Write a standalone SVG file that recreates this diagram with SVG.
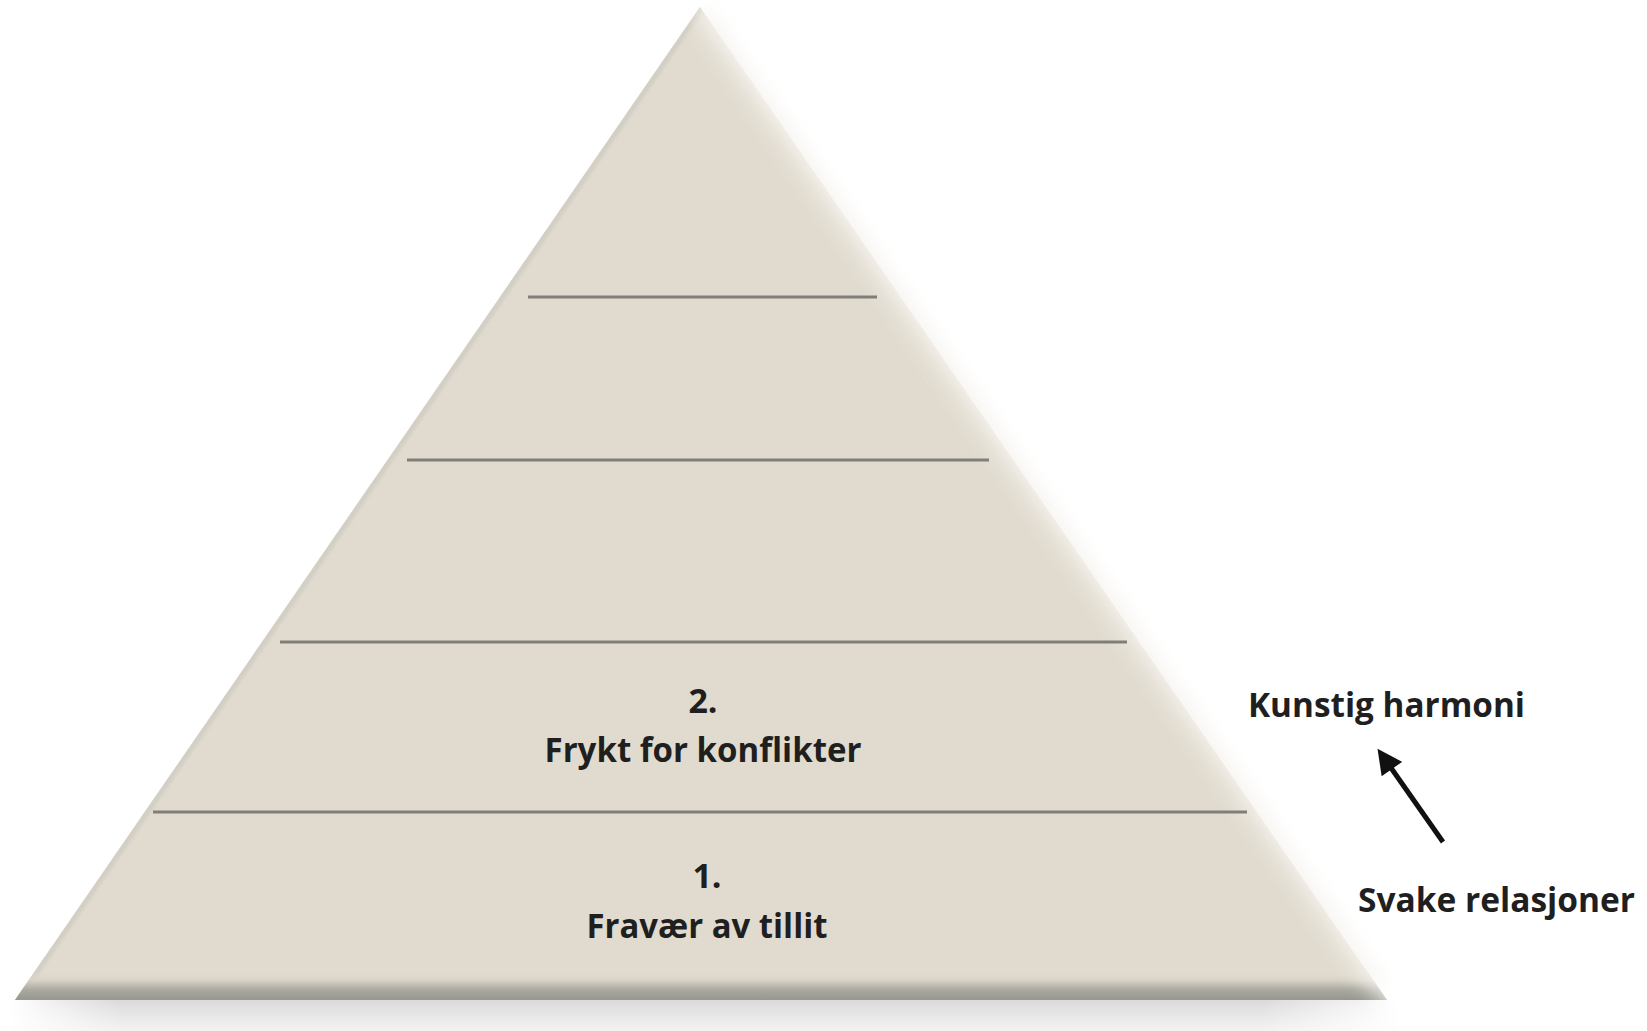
<svg xmlns="http://www.w3.org/2000/svg" width="1647" height="1031" viewBox="0 0 1647 1031">
  <style>
    .lbl { font-family: "Open Sans", Lato, sans-serif; font-weight: bold; fill: #1f1f1f; font-size: 34px; }
    .lvl { stroke: #807e79; stroke-width: 3; }
  </style>
  <defs>
    <filter id="blur10" x="-20%" y="-20%" width="140%" height="140%"><feGaussianBlur stdDeviation="10"/></filter>
    <filter id="blur12" x="-20%" y="-20%" width="140%" height="140%"><feGaussianBlur stdDeviation="12"/></filter>
    <filter id="blur2" x="-20%" y="-20%" width="140%" height="140%"><feGaussianBlur stdDeviation="1.5"/></filter>
    <linearGradient id="bottomBevel" x1="0" y1="972" x2="0" y2="1000" gradientUnits="userSpaceOnUse">
      <stop offset="0" stop-color="#e1dbcf" stop-opacity="0"/>
      <stop offset="0.3" stop-color="#d6d2c4"/>
      <stop offset="0.65" stop-color="#a8a7a0"/>
      <stop offset="1" stop-color="#97968f"/>
    </linearGradient>
    <linearGradient id="floor" x1="0" y1="1000" x2="0" y2="1031" gradientUnits="userSpaceOnUse">
      <stop offset="0" stop-color="#dcdcde"/>
      <stop offset="1" stop-color="#f3f3f3"/>
    </linearGradient>
    <linearGradient id="floorH" x1="0" y1="0" x2="1" y2="0">
      <stop offset="0" stop-color="#fff" stop-opacity="1"/>
      <stop offset="0.08" stop-color="#fff" stop-opacity="0"/>
      <stop offset="0.9" stop-color="#fff" stop-opacity="0"/>
      <stop offset="1" stop-color="#fff" stop-opacity="1"/>
    </linearGradient>
    <clipPath id="pyrClip"><polygon points="700,7 15,1000 1387,1000"/></clipPath>
    <marker id="arrowHead" viewBox="0 0 10 10" refX="2" refY="5" markerWidth="5.6" markerHeight="5" orient="auto" markerUnits="strokeWidth">
      <path d="M0,0 L10,5 L0,10 z" fill="#111"/>
    </marker>
  </defs>

  <rect width="1647" height="1031" fill="#ffffff"/>

  <g id="pyramid">
    <rect x="10" y="1000" width="1390" height="31" fill="url(#floor)"/>
    <rect x="10" y="1000" width="1390" height="31" fill="url(#floorH)"/>
    <polygon points="708,20 40,1000 1380,1000" fill="#c4c4c8" opacity="0.15" filter="url(#blur10)"/>
    <polygon points="700,7 15,1000 1387,1000" fill="#e1dbcf"/>
    <g clip-path="url(#pyrClip)">
      <line x1="700" y1="7" x2="15" y2="1000" stroke="#d3cfc4" stroke-width="10" filter="url(#blur2)"/>
      <rect x="0" y="972" width="1400" height="28" fill="url(#bottomBevel)"/>
    </g>
    <line x1="716" y1="-4" x2="1420" y2="1010" stroke="#ffffff" stroke-width="44" filter="url(#blur12)"/>
    <line x1="702" y1="14" x2="1378" y2="988" stroke="#ece7dd" stroke-width="10" opacity="0.7" filter="url(#blur10)"/>
  </g>

  <g id="levels">
    <line class="lvl" x1="528" y1="297" x2="877" y2="297"/>
    <line class="lvl" x1="407" y1="460" x2="989" y2="460"/>
    <line class="lvl" x1="280" y1="642" x2="1127" y2="642"/>
    <line class="lvl" x1="153" y1="812" x2="1247" y2="812"/>
  </g>

  <g id="level2">
    <text class="lbl" x="703" y="713" text-anchor="middle">2.</text>
    <text class="lbl" x="703" y="762" text-anchor="middle" textLength="317" lengthAdjust="spacingAndGlyphs">Frykt for konflikter</text>
  </g>
  <g id="level1">
    <text class="lbl" x="707" y="888" text-anchor="middle">1.</text>
    <text class="lbl" x="707" y="938" text-anchor="middle" textLength="241" lengthAdjust="spacingAndGlyphs">Fravær av tillit</text>
  </g>

  <g id="kunstig">
    <text class="lbl" x="1248" y="717" textLength="277" lengthAdjust="spacingAndGlyphs">Kunstig harmoni</text>
  </g>
  <g id="svake">
    <text class="lbl" x="1358" y="912" textLength="277" lengthAdjust="spacingAndGlyphs">Svake relasjoner</text>
  </g>

  <g id="connectors">
    <line x1="1443" y1="842" x2="1389" y2="765" stroke="#111" stroke-width="5" marker-end="url(#arrowHead)"/>
  </g>
</svg>
